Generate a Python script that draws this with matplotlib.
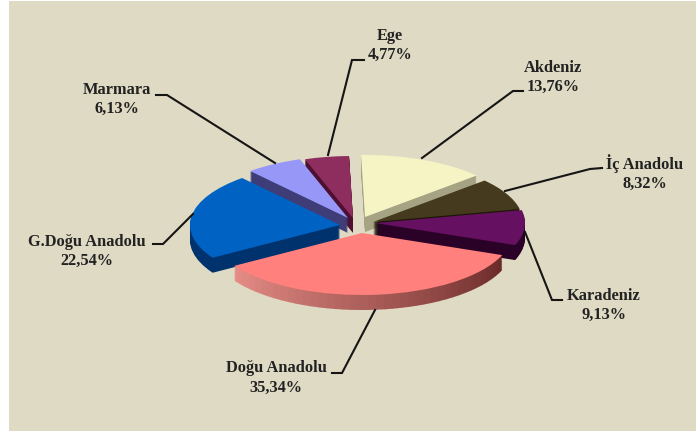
import numpy as np
import matplotlib
matplotlib.use('Agg')
from matplotlib import pyplot as plt
from matplotlib.colors import to_rgb
from matplotlib.patches import Rectangle, Wedge
from matplotlib.transforms import Affine2D

regions = ['Akdeniz', 'İç Anadolu', 'Karadeniz', 'Doğu Anadolu', 'G.Doğu Anadolu', 'Marmara', 'Ege']
shares = [13.76, 8.32, 9.13, 35.34, 22.54, 6.13, 4.77]
share_labels = ['13,76%', '8,32%', '9,13%', '35,34%', '22,54%', '6,13%', '4,77%']

top_colors = ['#F6F3C4', '#453A1E', '#651060', '#FF807C', '#0062C2', '#9797F8', '#8E2E5E']
side_colors = ['#A5A383', '#1A1505', '#2A0228', '#A85050', '#00326E', '#3E3D78', '#4E1032']
# apex of every slice in pixels, the slices are pulled apart
apex = [(365, 217), (373, 222), (375, 223), (362, 233), (340, 225), (348, 218), (353, 218)]
draw_order = [6, 0, 5, 1, 2, 4, 3]

# label centre and leader line for every slice
label_pos = [(553, 77), (645, 173), (604, 305), (276, 378), (87, 251), (117, 99), (390, 45)]
leaders = [
    [(422, 158), (513, 91), (523, 91)],
    [(505, 191), (590, 169), (602, 168)],
    [(525, 232), (552, 300), (562, 300)],
    [(375, 310), (342, 373), (332, 373)],
    [(193, 214), (163, 244), (153, 244)],
    [(275, 163), (167, 95), (156, 95)],
    [(328, 155), (352, 60), (364, 60)],
]

RX, RY, DEPTH = 150, 62, 15

plt.rcParams['font.family'] = 'Liberation Serif'
fig = plt.figure(figsize=(6.96, 4.32), dpi=100, facecolor='white')
ax = fig.add_axes([0, 0, 1, 1])
ax.set_xlim(0, 696)
ax.set_ylim(432, 0)
ax.axis('off')
ax.add_patch(Rectangle((9, 1), 687, 430, color='#DFDAC3', lw=0))

ends = np.cumsum(shares) / np.sum(shares) * 360 - 1.5
starts = np.r_[-1.5, ends[:-1]]


def wedge(i, t0, t1, dy, color):
    tr = Affine2D().scale(RX, RY).translate(apex[i][0], apex[i][1] + dy) + ax.transData
    ax.add_patch(Wedge((0, 0), 1, t0 - 90, t1 - 90, transform=tr, color=color, lw=0))


for i in draw_order:
    for dy in np.arange(DEPTH, 0, -1):
        if regions[i] == 'Doğu Anadolu':
            # the front face goes from light on the left to dark on the right
            edges = np.linspace(starts[i], ends[i], 41)
            light, dark = np.array(to_rgb('#E58C86')), np.array(to_rgb('#6A2A28'))
            for j in range(40):
                f = j / 39
                wedge(i, edges[j], edges[j + 1] + 0.3, dy, tuple(dark * (1 - f) + light * f))
        else:
            wedge(i, starts[i], ends[i], dy, side_colors[i])
    wedge(i, starts[i], ends[i], 0, top_colors[i])

for i in range(len(regions)):
    xs, ys = zip(*leaders[i])
    ax.plot(xs, ys, color='#151515', lw=1.5, solid_joinstyle='miter')
    ax.text(label_pos[i][0], label_pos[i][1], regions[i] + '\n' + share_labels[i], ha='center', va='center',
            fontsize=11.8, fontweight='bold', color='#222222', linespacing=1.25)

plt.savefig('out.png', dpi=100)
